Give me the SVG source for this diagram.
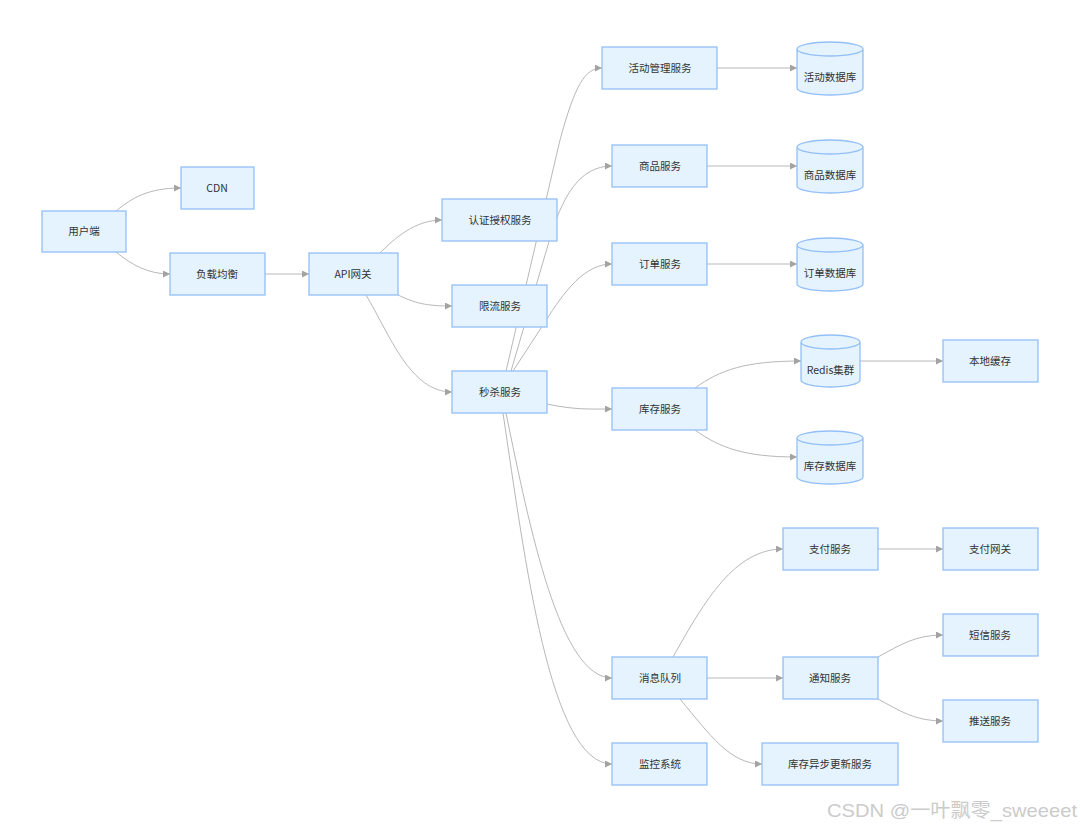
<svg xmlns="http://www.w3.org/2000/svg" width="1080" height="828" viewBox="0 0 1080 828">
<defs>
<marker id="arr" viewBox="0 0 10 10" refX="10" refY="5" markerWidth="7" markerHeight="7" markerUnits="userSpaceOnUse" orient="auto">
<path d="M0,0 L10,5 L0,10 z" fill="#a3a3a3"/>
</marker>
<style>
.n rect,.n path{fill:#e4f3fd;stroke:#93bff8;stroke-width:1.3}
.n text{font-family:"Noto Sans CJK SC","Liberation Sans",sans-serif;font-size:10.5px;fill:#333;text-anchor:middle}
.e path{fill:none;stroke:#b8b8b8;stroke-width:1;marker-end:url(#arr)}
.wm{font-family:"Liberation Sans","Noto Sans CJK SC",sans-serif;font-size:19px;fill:#cbcbcb}
</style>
</defs>
<rect width="1080" height="828" fill="#fff"/>
<g id="connectors" class="e">
<path d="M116,211 C132,198 148,188 181,188"/>
<path d="M116,252 C132,265 148,274 170,274"/>
<path d="M265,274 L309,274"/>
<path d="M380,253 C395,238 415,220 442,220"/>
<path d="M398,295 C415,303 425,306 452,306"/>
<path d="M366,295 C390,335 410,392 452,392"/>
<path d="M506,371 L560,140 C575,85 585,68 602,68"/>
<path d="M511,371 L548,245 C562,195 580,166 612,166"/>
<path d="M513,371 L545,322 C565,290 585,264 612,264"/>
<path d="M547,404 C575,410 590,409 612,409"/>
<path d="M506,413 C530,530 560,678 612,678"/>
<path d="M503,413 C525,560 550,764 612,764"/>
<path d="M717,68 L797,68"/>
<path d="M707,166 L797,166"/>
<path d="M707,264 L797,264"/>
<path d="M695,388 C720,370 745,361 801,361"/>
<path d="M695,430 C720,448 745,457 797,457"/>
<path d="M860,361 L943,361"/>
<path d="M673,657 C705,600 735,549 783,549"/>
<path d="M707,678 L783,678"/>
<path d="M680,699 C710,735 730,764 762,764"/>
<path d="M878,549 L943,549"/>
<path d="M878,657 C900,645 915,635 943,635"/>
<path d="M878,699 C900,711 915,721 943,721"/>
</g>
<g id="user" class="n"><rect x="42" y="211" width="84" height="41"/><text x="84" y="235">用户端</text></g>
<g id="cdn" class="n"><rect x="181" y="167" width="73" height="42"/><text x="217" y="192">CDN</text></g>
<g id="lb" class="n"><rect x="170" y="253" width="95" height="42"/><text x="217" y="278">负载均衡</text></g>
<g id="gateway" class="n"><rect x="309" y="253" width="89" height="42"/><text x="353" y="278">API网关</text></g>
<g id="auth" class="n"><rect x="442" y="199" width="115" height="42"/><text x="500" y="224">认证授权服务</text></g>
<g id="ratelimit" class="n"><rect x="452" y="285" width="95" height="42"/><text x="500" y="310">限流服务</text></g>
<g id="seckill" class="n"><rect x="452" y="371" width="95" height="42"/><text x="500" y="396">秒杀服务</text></g>
<g id="activity" class="n"><rect x="602" y="47" width="115" height="42"/><text x="660" y="72">活动管理服务</text></g>
<g id="product" class="n"><rect x="612" y="145" width="95" height="42"/><text x="660" y="170">商品服务</text></g>
<g id="order" class="n"><rect x="612" y="243" width="95" height="42"/><text x="660" y="268">订单服务</text></g>
<g id="stock" class="n"><rect x="612" y="388" width="95" height="42"/><text x="660" y="413">库存服务</text></g>
<g id="mq" class="n"><rect x="612" y="657" width="95" height="42"/><text x="660" y="682">消息队列</text></g>
<g id="monitor" class="n"><rect x="612" y="743" width="95" height="42"/><text x="660" y="768">监控系统</text></g>
<g id="activitydb" class="n"><path d="M797,49 a33,7 0 0 0 66,0 a33,7 0 0 0 -66,0 l0,39 a33,7 0 0 0 66,0 l0,-39"/><text x="830" y="81">活动数据库</text></g>
<g id="productdb" class="n"><path d="M797,147 a33,7 0 0 0 66,0 a33,7 0 0 0 -66,0 l0,39 a33,7 0 0 0 66,0 l0,-39"/><text x="830" y="179">商品数据库</text></g>
<g id="orderdb" class="n"><path d="M797,245 a33,7 0 0 0 66,0 a33,7 0 0 0 -66,0 l0,39 a33,7 0 0 0 66,0 l0,-39"/><text x="830" y="277">订单数据库</text></g>
<g id="redis" class="n"><path d="M801,342 a29.5,7 0 0 0 59,0 a29.5,7 0 0 0 -59,0 l0,38 a29.5,7 0 0 0 59,0 l0,-38"/><text x="830.5" y="374">Redis集群</text></g>
<g id="stockdb" class="n"><path d="M797,438 a33,7 0 0 0 66,0 a33,7 0 0 0 -66,0 l0,39 a33,7 0 0 0 66,0 l0,-39"/><text x="830" y="470">库存数据库</text></g>
<g id="localcache" class="n"><rect x="943" y="340" width="95" height="42"/><text x="990" y="365">本地缓存</text></g>
<g id="pay" class="n"><rect x="783" y="528" width="95" height="42"/><text x="830" y="553">支付服务</text></g>
<g id="paygw" class="n"><rect x="943" y="528" width="95" height="42"/><text x="990" y="553">支付网关</text></g>
<g id="notify" class="n"><rect x="783" y="657" width="95" height="42"/><text x="830" y="682">通知服务</text></g>
<g id="sms" class="n"><rect x="943" y="614" width="95" height="42"/><text x="990" y="639">短信服务</text></g>
<g id="push" class="n"><rect x="943" y="700" width="95" height="42"/><text x="990" y="725">推送服务</text></g>
<g id="asyncstock" class="n"><rect x="762" y="743" width="136" height="42"/><text x="830" y="768">库存异步更新服务</text></g>
<text class="wm" x="827" y="817" textLength="250" lengthAdjust="spacingAndGlyphs">CSDN @一叶飘零_sweeeet</text>
</svg>
